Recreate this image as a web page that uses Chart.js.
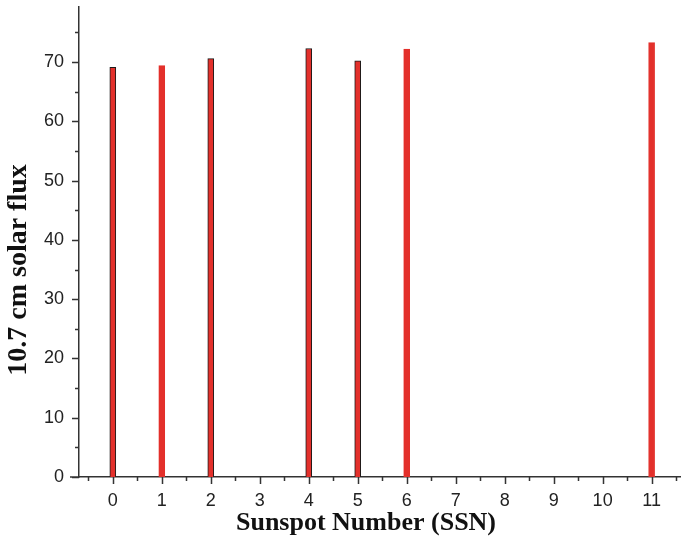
<!DOCTYPE html>
<html>
<head>
<meta charset="utf-8">
<script src="https://cdn.jsdelivr.net/npm/chart.js@4/dist/chart.umd.min.js"></script>
<style>
  html, body { margin: 0; padding: 0; background: #fff; }
  #wrap { width: 681px; height: 545px; }
</style>
</head>
<body>
<div id="wrap"><canvas id="grafico"></canvas></div>
<script>
// Dados
const ssn = [0, 1, 2, 4, 5, 6, 11];
const fluxo = [69.1, 69.4, 70.6, 72.3, 70.2, 72.2, 73.3];
const bordaEscura = [true, false, true, true, true, false, false];
const xTicks = [0, 1, 2, 3, 4, 5, 6, 7, 8, 9, 10, 11];
const yTicks = [0, 10, 20, 30, 40, 50, 60, 70];
const tituloX = "Sunspot Number (SSN)";
const tituloY = "10.7 cm solar flux";

const vermelho = "#e3302b";

// ticks maiores e menores desenhados a partir das escalas + títulos dos eixos
const ticksPlugin = {
    id: "ticksMenores",
    afterDraw(chart) {
        const ctx = chart.ctx;
        const xs = chart.scales.x, ys = chart.scales.y;
        const x0 = xs.left, y0 = ys.bottom;
        ctx.save();
        ctx.strokeStyle = "#333";
        ctx.lineWidth = 1.5;
        ctx.beginPath();
        // extensão do eixo x à esquerda
        ctx.moveTo(x0 - 9, y0);
        ctx.lineTo(x0, y0);
        for (let v = 0; v <= 75; v += 5) {
            const py = Math.round(ys.getPixelForValue(v)) + 0.5;
            const len = v % 10 === 0 ? 7 : 4;
            ctx.moveTo(x0 - len, py);
            ctx.lineTo(x0, py);
        }
        for (let v = -0.5; v <= 11.5; v += 0.5) {
            const px = Math.round(xs.getPixelForValue(v)) + 0.5;
            const len = Number.isInteger(v) ? 7 : 4;
            ctx.moveTo(px, y0);
            ctx.lineTo(px, y0 + len);
        }
        ctx.stroke();

        ctx.fillStyle = "#111";
        ctx.textAlign = "center";
        ctx.textBaseline = "middle";

        // título do eixo x (centrado um pouco à esquerda, como no original)
        ctx.font = "bold 26px 'Liberation Serif', 'Times New Roman'";
        ctx.fillText(tituloX, 366, 523);

        // título do eixo y (um pouco abaixo do centro)
        ctx.translate(19, 270);
        ctx.rotate(-Math.PI / 2);
        ctx.font = "bold 28px 'Liberation Serif', 'Times New Roman'";
        ctx.fillText(tituloY, 0, 0);
        ctx.restore();
    }
};

new Chart(document.getElementById("grafico"), {
    type: "bar",
    data: {
        datasets: [{
            data: ssn.map((s, i) => ({ x: s, y: fluxo[i] })),
            backgroundColor: vermelho,
            borderColor: bordaEscura.map(b => b ? "#1a1a1a" : vermelho),
            borderWidth: 1,
            barThickness: 6
        }]
    },
    options: {
        responsive: true,
        maintainAspectRatio: false,
        animation: false,
        layout: { padding: { top: 7, right: 0, left: 0, bottom: 0 } },
        plugins: { legend: { display: false }, tooltip: { enabled: false } },
        scales: {
            x: {
                type: "linear",
                offset: false,
                min: -0.69,
                max: 11.6,
                afterFit: s => { s.height = 68; s.paddingLeft = 0; s.paddingRight = 0; },
                afterBuildTicks: s => { s.ticks = xTicks.map(v => ({ value: v })); },
                grid: { display: false, drawTicks: false },
                border: { display: true, color: "#333", width: 1.5 },
                ticks: {
                    padding: 13,
                    color: "#222",
                    font: { family: "Liberation Sans, Arial", size: 18 },
                    maxRotation: 0
                },
                title: { display: false }
            },
            y: {
                min: 0,
                max: 79.3,
                afterFit: s => { s.width = 79; s.paddingTop = 0; s.paddingBottom = 0; },
                afterBuildTicks: s => { s.ticks = yTicks.map(v => ({ value: v })); },
                grid: { display: false, drawTicks: false },
                border: { display: true, color: "#333", width: 1.5 },
                ticks: {
                    padding: 15,
                    color: "#222",
                    font: { family: "Liberation Sans, Arial", size: 18 }
                },
                title: { display: false }
            }
        }
    },
    plugins: [ticksPlugin]
});
</script>
</body>
</html>
